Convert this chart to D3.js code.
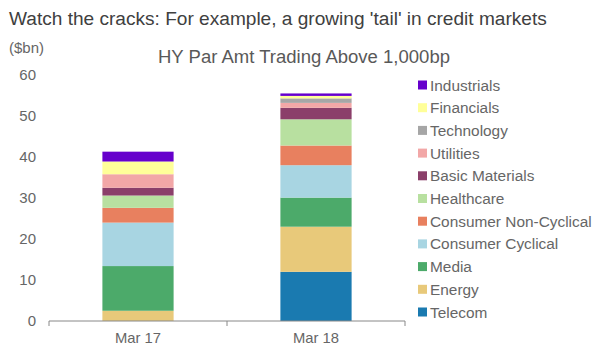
<!DOCTYPE html>
<html><head><meta charset="utf-8">
<script src="https://cdn.jsdelivr.net/npm/d3@7"></script>
<style>
body{margin:0;background:#fff;}
text{font-family:"Liberation Sans",Arial,sans-serif;}
</style></head>
<body><svg id="c" width="613" height="360"></svg>
<script>
const categories = ["Mar 17", "Mar 18"];
const sectors = ["Telecom","Energy","Media","Consumer Cyclical","Consumer Non-Cyclical","Healthcare","Basic Materials","Utilities","Technology","Financials","Industrials"];
const colors = ["#1a7ab0","#e8c97a","#4caa6a","#a8d5e2","#e8805f","#b8e0a0","#8b3f6a","#f2a7a7","#a6a6a6","#ffff99","#6600cc"];
const mar17 = [0, 2.5, 10.9, 10.6, 3.6, 3.0, 1.9, 3.3, 0, 3.1, 2.4];
const mar18 = [12.0, 11.0, 7.1, 7.9, 4.8, 6.4, 2.8, 1.2, 1.1, 0.6, 0.6];
const yTicks = [0,10,20,30,40,50,60];

const svg = d3.select("#c");
const x = d3.scaleBand().domain(categories).range([49,405]).paddingInner(0.6).paddingOuter(0.3);
const y = d3.scaleLinear().domain([0,60]).range([321,75]);
const color = d3.scaleOrdinal().domain(sectors).range(colors);

function fit(sel, w){ // scale font so text spans width w
  sel.each(function(){
    const fs = parseFloat(this.getAttribute("font-size"));
    const l = this.getComputedTextLength();
    if(l>0) this.setAttribute("font-size", (fs*w/l).toFixed(2));
  });
}

const rows = categories.map((c,i)=>{const o={cat:c}; sectors.forEach((s,j)=>o[s]=(i===0?mar17:mar18)[j]); return o;});
const stack = d3.stack().keys(sectors)(rows);

svg.append("g").selectAll("g").data(stack).join("g").attr("fill",d=>color(d.key))
  .selectAll("rect").data(d=>d).join("rect")
  .attr("x",d=>x(d.data.cat)).attr("width",x.bandwidth())
  .attr("y",d=>y(d[1])).attr("height",d=>y(d[0])-y(d[1]));

// y tick labels
const ya = svg.append("g").attr("transform","translate(36,0)")
  .call(d3.axisLeft(y).tickValues(yTicks).tickSize(0).tickPadding(0));
ya.select(".domain").remove();
ya.selectAll("text").attr("font-size",15).attr("fill","#666").attr("font-family","Liberation Sans, Arial, sans-serif");

// x axis
const xa = svg.append("g").attr("transform","translate(0,321)")
  .call(d3.axisBottom(x).tickSize(0).tickPadding(11));
xa.select(".domain").attr("stroke","#888").attr("d","M49,0H405");
xa.selectAll("text").attr("font-size",14.8).attr("fill","#666").attr("font-family","Liberation Sans, Arial, sans-serif");
xa.selectAll(".sep").data([49,227,405]).join("line").attr("class","sep")
  .attr("x1",d=>d).attr("x2",d=>d).attr("y1",0).attr("y2",5).attr("stroke","#888");

// titles
svg.append("text").attr("x",9).attr("y",25).attr("font-size",19).attr("fill","#404040")
  .text("Watch the cracks: For example, a growing 'tail' in credit markets").call(fit,538);
svg.append("text").attr("x",9).attr("y",53).attr("font-size",15).attr("fill","#666").text("($bn)").call(fit,35);
svg.append("text").attr("x",158).attr("y",63).attr("font-size",18).attr("fill","#595959")
  .text("HY Par Amt Trading Above 1,000bp").call(fit,292);

// legend
const legendOrder = sectors.slice().reverse();
const lg = svg.append("g").selectAll("g").data(legendOrder).join("g")
  .attr("transform",(d,i)=>`translate(418,${85+i*22.7})`);
lg.append("rect").attr("x",0).attr("y",-4.5).attr("width",9).attr("height",9).attr("fill",d=>color(d));
const lt = lg.append("text").attr("x",12).attr("y",0).attr("dy","0.36em").attr("font-size",15.4).attr("fill","#666").text(d=>d);
</script></body></html>
